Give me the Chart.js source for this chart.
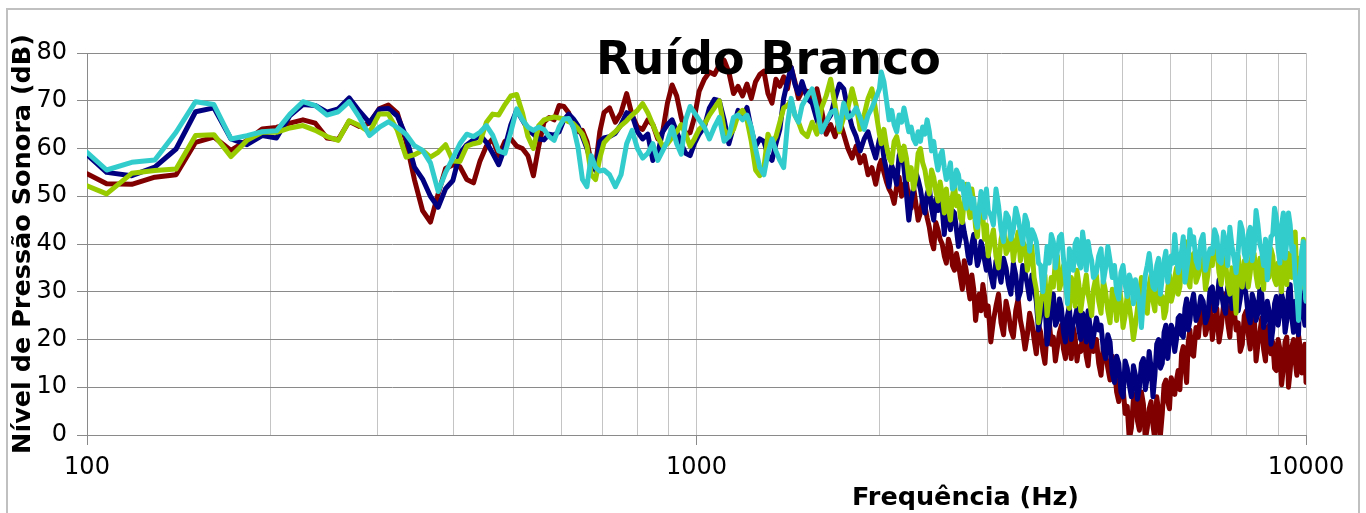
<!DOCTYPE html>
<html><head><meta charset="utf-8">
<script src="https://cdn.jsdelivr.net/npm/chart.js@4/dist/chart.umd.min.js"></script>
<style>
html,body{margin:0;padding:0;background:#fff;overflow:hidden;width:1366px;height:513px;}
#frame{position:absolute;left:6px;top:8px;width:1354px;height:560px;border:2px solid #c0c0c0;box-sizing:border-box;}
#wrap{position:absolute;left:0;top:0;width:1366px;height:513px;}
</style></head><body>
<div id="frame"></div>
<div id="wrap"><canvas id="c" width="1366" height="513"></canvas></div>
<script>
const TITLE = 'Ruído Branco';
const X_TITLE = 'Frequência (Hz)';
const Y_TITLE = 'Nível de Pressão Sonora (dB)';
const X_TICK_LABELS = [100, 1000, 10000];
const X_GRID = [100,200,300,400,500,600,700,800,900,1000,2000,3000,4000,5000,6000,7000,8000,9000,10000];
const Y_MIN = 0, Y_MAX = 80, Y_STEP = 10;

const FREQ = [
 100,107.7,118.4,129.2,140,150.7,161.5,172.3,183,193.8,204.6,215.3,226.1,236.9,247.6,258.4,269.2,279.9,290.7,301.5,312.2,323,333.8,344.5,355.3,366,376.8,387.6,398.4,409.1,419.9,430.7,441.4,452.2,463,473.7,
 485,496,507,518,529,540,551,562,573,584,595,606,617,628,639,650,661,672,683,694,705,
 720,736,752,768,784,800,816,832,848,864,880,896,912,928,944,960,976,992,
 1010,1030,1050,1070,1090,1110,1130,1150,1170,1190,1210,1230,1250,1270,1290,1310,1330,1350,1370,1390,1410,1430,1450,1470,1490,
 1520,1548,1576,1604,1632,1660,1688,1716,1744,1772,1800,1828,1856,1884,1912,1940,1968,1996,
 2010,2030,2050,2070,2090,2110,2130,2150,2170,2190,2210,2230,2250,2270,2290,2310,2330,2350,2370,2390,2410,2430,2450,2470,2490,2510,2530,2550,2570,2590,2610,2630,2650,2670,2690,2710,2730,2750,2770,2790,2810,2830,2850,2870,2890,2910,2930,2950,2970,2990,
 3010,3040,3070,3100,3130,3160,3190,3220,3250,3280,3310,3340,3370,3400,3430,3460,3490,3520,3550,3580,3610,3640,3670,3700,3730,3760,3790,3820,3850,3880,3910,3940,3970,4000,4030,4060,4090,4120,4150,4180,4210,4240,4270,4300,4330,4360,4390,4420,4450,4480,
 4530,4570,4610,4650,4690,4730,4770,4810,4850,4890,4930,4970,5010,5050,5090,5130,5170,5210,5250,5290,5330,5370,5410,5450,5490,5530,5570,5610,5650,5690,5730,5770,5810,5850,5890,5930,5970,6010,6050,6090,6130,6170,6210,6250,6290,6330,6370,6410,6450,6490,
 6540,6600,6660,6720,6780,6840,6900,6960,7020,7080,7140,7200,7260,7320,7380,7440,7500,7560,7620,7680,7740,7800,7860,7920,7980,8040,8100,8160,8220,8280,8340,8400,8460,8520,8580,8640,8700,8760,8820,8880,8940,9000,9060,9120,9180,9240,9300,9360,9420,9480,9540,9600,9660,9720,9780,9840,9900,9960,10000
];

const SERIES_RED = [
 54.7,52.6,52.5,54.0,54.5,61.3,62.4,59.6,61.7,64.1,64.4,65.3,66.0,65.3,62.2,61.9,65.7,64.6,65.3,68.3,69.1,67.4,61.5,53.5,47.0,44.6,50.5,55.8,56.6,56.2,53.5,52.8,57.4,60.5,62.0,58.5,
 61.5,62.0,60.5,60.0,58.5,54.3,60.5,65.5,66.5,66.0,69.0,68.8,67.5,64.5,63.5,63.8,61.5,57.0,56.5,63.5,67.5,
 68.5,65.5,67.5,71.5,67.0,64.5,64.0,66.0,65.0,62.0,63.5,69.5,73.3,71.0,66.5,63.0,63.3,66.5,
 72.0,74.5,76.0,75.5,77.5,78.5,76.0,71.5,73.0,71.0,73.5,70.5,74.0,75.5,76.2,71.5,69.5,74.5,73.0,75.0,72.5,77.0,74.0,70.5,72.0,
 72.0,70.5,72.5,68.0,63.0,65.0,62.5,66.0,63.0,60.0,58.0,60.5,57.0,58.5,54.5,56.0,52.5,56.5,
 57.5,55.0,53.0,51.5,50.5,48.5,52.0,54.0,50.0,52.5,53.0,49.5,47.5,52.0,48.5,45.0,46.5,49.5,48.0,45.5,43.5,40.5,39.0,44.5,43.0,41.0,40.0,37.5,36.0,41.0,39.5,35.5,34.5,38.0,36.0,33.0,30.5,36.5,34.5,31.0,28.5,33.5,30.5,24.0,27.5,29.5,26.0,31.5,29.0,25.0,
 27.0,19.5,24.0,27.0,29.5,23.5,21.0,28.0,25.5,22.0,20.5,26.0,28.5,24.0,21.5,18.0,21.0,25.5,23.5,20.0,17.0,23.0,21.5,17.5,15.0,22.0,24.0,19.0,20.5,15.5,18.5,21.5,23.0,18.0,16.0,21.0,19.5,16.0,22.5,20.5,15.5,18.5,17.5,21.0,19.5,16.5,14.5,19.5,21.0,17.5,
 20.0,15.0,12.5,18.5,17.0,14.0,11.5,16.5,14.0,9.0,7.0,12.0,10.0,4.5,6.0,-1.0,1.5,7.5,8.5,3.0,1.0,9.0,6.5,-1.0,1.5,5.5,7.0,2.0,-1.0,8.0,5.0,0.0,4.5,10.5,11.5,7.0,5.5,12.0,10.5,8.5,11.5,13.5,9.5,17.0,18.5,14.5,11.0,19.5,22.0,17.0,
 16.5,22.5,20.5,26.0,27.0,21.0,23.0,27.5,20.0,24.0,26.5,19.5,22.5,27.0,29.5,23.5,20.5,28.5,26.5,22.0,23.5,17.5,19.0,25.0,26.0,21.0,18.0,24.0,26.0,15.5,19.0,21.5,24.5,18.0,15.5,22.5,23.0,17.0,19.5,14.0,13.5,20.0,18.0,10.5,14.0,19.5,20.5,10.0,13.5,18.5,20.0,15.5,12.5,21.0,18.5,13.0,14.5,19.0,11.0
];

const SERIES_NAVY = [
 58.7,55.0,54.3,56.1,59.9,67.7,68.5,62.0,60.8,62.7,62.2,66.9,69.2,69.0,67.6,68.3,70.6,67.8,65.4,68.2,68.4,66.8,62.5,56.1,53.6,50.0,47.7,51.6,53.3,59.0,60.8,61.8,62.8,61.3,59.0,56.6,
 60.3,65.0,68.0,66.0,64.0,63.0,62.0,61.8,63.0,62.8,63.5,66.0,67.2,66.2,64.8,62.5,60.0,57.0,55.4,61.5,62.2,
 62.5,63.2,65.0,67.5,67.0,63.5,62.0,63.0,57.5,59.0,63.5,65.0,66.0,63.5,61.0,59.0,58.5,61.0,
 63.0,64.5,68.5,70.3,70.0,66.0,61.0,64.5,68.0,66.5,68.6,64.0,60.5,62.0,61.5,58.5,57.5,61.0,64.0,70.5,74.0,77.0,73.5,71.5,74.0,
 70.5,69.5,66.0,63.5,65.5,67.0,70.5,73.5,72.5,68.0,64.5,62.5,59.5,62.0,63.5,60.5,58.0,62.0,
 62.5,58.0,55.5,52.0,56.5,55.0,52.5,58.5,60.0,56.0,50.5,45.0,49.0,51.5,55.0,53.5,51.5,48.5,46.5,50.5,52.0,47.5,45.0,49.5,47.0,50.5,47.5,42.0,48.5,45.0,43.0,47.0,46.5,43.0,39.5,41.5,45.0,42.5,40.5,37.5,36.0,40.0,42.0,38.5,35.5,37.0,40.5,39.0,36.5,34.5,
 37.5,33.5,31.0,36.5,34.5,32.0,37.0,35.0,31.5,29.5,36.0,33.5,28.5,30.0,35.5,34.0,31.5,28.5,33.5,31.0,28.0,22.0,25.0,26.5,28.0,19.0,22.5,27.0,29.5,23.0,24.0,28.5,26.5,21.5,19.5,25.0,27.0,20.0,23.5,24.5,26.5,22.0,20.0,25.5,24.0,19.5,26.0,23.0,18.5,20.5,
 24.5,22.0,23.0,18.0,16.0,21.0,19.5,13.0,11.0,16.5,15.0,9.0,8.0,15.5,14.0,10.5,8.0,14.5,12.5,7.5,10.0,15.0,16.0,9.5,12.0,17.5,14.0,8.0,12.5,19.0,20.0,14.0,15.0,21.5,23.0,16.0,19.5,23.0,22.0,17.5,20.0,24.5,25.0,21.0,20.5,26.5,28.5,22.0,24.0,27.5,
 29.5,24.0,25.5,29.0,28.0,23.5,25.0,30.5,31.0,26.0,27.5,32.5,30.0,27.0,25.5,31.0,32.0,26.5,28.0,33.0,26.0,28.5,33.0,31.5,29.0,25.0,23.5,29.5,28.0,24.0,25.5,30.5,29.5,22.5,24.5,28.0,26.0,19.0,22.0,27.5,29.0,23.0,25.5,29.5,28.0,21.5,24.0,30.0,31.5,24.5,21.5,28.0,26.0,21.0,30.5,27.0,25.5,23.0,28.0
];

const SERIES_GREEN = [
 52.2,50.5,54.8,55.4,55.7,62.7,62.9,58.3,61.7,63.4,63.4,64.3,64.8,63.8,62.5,61.7,65.8,64.8,63.4,67.2,67.2,63.8,58.2,58.7,59.6,58.2,59.2,60.8,57.4,57.3,60.5,61.0,61.3,65.5,67.2,67.0,
 69.2,71.0,71.3,67.5,62.5,60.0,64.8,66.0,66.3,66.6,66.4,66.2,65.6,65.2,64.2,63.0,60.5,54.5,53.5,58.0,61.2,
 62.5,63.5,64.8,65.8,67.0,68.0,69.4,67.5,65.0,62.5,60.5,61.0,62.3,63.5,65.0,63.0,60.5,62.0,
 64.0,65.0,67.0,68.5,70.0,64.0,62.5,64.0,67.0,68.0,66.0,61.5,55.5,54.3,56.0,63.0,61.0,62.5,65.5,68.5,69.0,70.0,67.0,65.5,63.5,
 62.5,65.5,63.0,68.5,71.0,74.5,69.0,63.5,66.5,68.5,72.5,69.0,64.0,67.0,70.5,72.5,68.0,63.0,
 61.0,64.0,60.5,58.0,57.0,61.5,62.5,60.0,57.5,60.5,58.0,53.5,56.0,51.5,54.0,59.0,60.0,57.0,55.5,52.5,50.5,55.5,54.0,51.0,49.0,53.0,50.5,46.5,51.5,47.5,45.0,50.0,52.5,48.0,50.0,45.5,44.5,49.5,52.5,48.0,45.5,51.5,48.5,43.5,41.5,47.5,49.5,45.5,41.0,44.0,
 37.5,40.5,43.0,37.5,35.0,41.0,43.5,38.0,39.0,43.0,36.5,40.0,42.5,36.5,40.5,39.5,34.5,37.0,39.5,33.0,30.5,23.5,27.5,30.0,33.5,25.0,29.0,33.0,31.0,36.5,37.5,30.5,32.0,35.5,32.5,28.5,26.5,33.0,31.5,27.0,34.5,31.5,26.0,29.0,31.0,33.5,29.5,27.5,25.0,30.5,
 33.5,28.0,25.5,32.5,30.0,26.0,23.5,30.5,29.0,24.0,31.5,28.5,22.5,25.0,29.5,27.0,24.0,20.0,23.0,26.5,29.0,33.0,31.0,27.5,25.5,31.5,33.5,28.0,26.0,32.5,31.5,27.5,29.0,24.5,26.0,30.5,33.5,28.0,29.5,33.0,35.0,29.5,31.0,35.0,34.5,40.5,37.5,32.0,31.0,36.5,
 38.0,32.0,33.5,36.5,37.0,30.5,33.5,38.0,35.5,41.5,38.5,34.0,31.5,37.5,36.0,31.5,29.5,35.0,31.5,25.5,37.5,33.0,31.0,36.5,36.5,31.0,34.0,38.5,38.0,33.5,31.0,37.0,36.0,30.5,39.0,35.5,33.0,39.0,37.5,32.5,31.5,36.0,35.5,30.0,39.5,34.5,31.5,38.0,37.5,33.0,36.0,42.5,32.5,37.0,35.5,31.0,41.0,36.0,33.0
];

const SERIES_CYAN = [
 59.2,55.5,57.1,57.6,63.4,69.8,69.2,62.0,62.7,63.5,63.7,67.2,69.8,69.0,67.0,67.7,69.8,66.5,62.7,64.4,65.6,64.4,63.0,60.6,59.6,57.0,51.0,55.0,58.0,61.0,63.0,62.5,63.4,64.8,62.8,59.5,
 59.0,63.5,68.3,66.0,64.5,63.8,64.5,64.0,62.5,61.7,64.5,66.2,66.3,64.5,60.3,53.5,52.0,58.5,56.0,55.3,55.5,
 54.5,52.0,54.5,61.0,63.8,60.0,58.0,59.0,61.0,57.5,59.5,61.5,64.5,61.0,58.8,66.0,68.8,67.5,
 66.0,64.5,62.0,64.5,66.5,61.5,62.5,66.5,67.0,66.0,67.0,64.5,60.0,56.0,54.5,59.0,62.0,59.5,57.5,56.0,65.0,70.5,67.0,65.5,69.0,
 71.0,72.5,68.5,63.5,65.5,67.5,68.0,64.0,69.5,66.5,67.0,68.5,66.5,64.0,67.0,68.5,70.5,72.5,
 76.0,74.0,70.0,66.0,68.0,65.0,63.5,67.0,65.5,68.5,66.0,63.5,64.5,62.0,61.0,63.5,61.5,64.5,63.0,66.0,63.5,59.5,61.5,58.0,55.5,58.5,59.5,56.0,53.5,55.0,57.0,51.5,52.0,55.5,54.5,51.5,53.0,49.5,47.5,52.5,50.5,47.5,49.5,45.0,43.5,47.5,51.0,48.5,45.5,51.5,
 47.0,46.0,44.0,51.5,48.0,43.0,40.5,46.5,45.5,41.0,43.0,47.5,45.5,42.5,40.0,46.0,44.5,38.5,43.0,42.0,40.5,36.0,35.5,30.0,34.5,39.5,36.0,42.0,40.5,35.0,38.5,41.5,42.0,37.0,33.0,27.5,39.0,36.5,34.5,40.0,41.0,36.0,35.0,42.5,39.5,34.5,40.5,38.0,36.5,33.0,
 34.0,37.5,39.0,32.0,35.0,39.5,36.5,33.0,35.5,30.0,28.5,34.0,35.5,31.5,29.0,33.5,32.0,27.5,32.5,30.5,27.5,22.5,28.5,33.5,35.5,38.0,34.5,31.0,30.5,35.5,37.0,29.5,33.0,36.5,38.5,32.0,34.5,37.5,36.0,42.0,38.0,34.0,35.5,38.5,41.5,32.0,34.5,37.0,43.0,40.0,
 41.5,36.5,35.0,40.5,42.0,34.5,37.0,39.0,38.0,43.0,41.5,36.5,36.0,42.5,40.5,35.5,43.5,39.5,37.0,34.0,38.5,44.5,43.0,38.0,36.5,42.0,43.5,36.5,39.0,47.0,44.0,40.0,38.5,35.5,41.0,32.5,37.5,41.5,42.0,47.5,45.5,39.0,36.0,44.0,46.5,37.0,40.5,46.5,44.0,38.5,39.5,33.0,30.0,24.0,33.0,38.5,40.5,31.0,28.0
];

const FONT = 'DejaVu Sans';

const textPlugin = {
  id: 'freeTexts',
  afterDraw(chart) {
    const c = chart.ctx;
    c.save();
    c.fillStyle = '#000';
    c.textAlign = 'center';
    c.textBaseline = 'alphabetic';
    c.font = 'bold 46px "' + FONT + '"';
    c.fillText(TITLE, 768.5, 73.5);
    c.font = 'bold 25.5px "' + FONT + '"';
    c.fillText(X_TITLE, 965.5, 505);
    c.restore();
  }
};

function ds(label, data, color, order) {
  return { label, data, borderColor: color, backgroundColor: color, order, clip: 0,
           borderWidth: 5, pointRadius: 0, tension: 0, fill: false,
           borderJoinStyle: 'round', borderCapStyle: 'round' };
}

new Chart(document.getElementById('c').getContext('2d'), {
  type: 'line',
  data: {
    labels: FREQ,
    datasets: [
      ds('Série 1', SERIES_RED, '#800000', 3),
      ds('Série 2', SERIES_NAVY, '#000080', 2),
      ds('Série 3', SERIES_GREEN, '#99cc00', 1),
      ds('Série 4', SERIES_CYAN, '#33cccc', 0)
    ]
  },
  options: {
    responsive: false,
    animation: false,
    devicePixelRatio: 1,
    layout: { padding: { left: 0, top: 53, right: 60, bottom: 0 } },
    plugins: { legend: { display: false }, tooltip: { enabled: false }, title: { display: false } },
    scales: {
      x: {
        type: 'logarithmic', min: 100, max: 10000,
        afterBuildTicks: s => { s.ticks = X_GRID.map(v => ({ value: v })); },
        afterFit: s => { s.height = 78; },
        ticks: {
          autoSkip: false, maxRotation: 0, minRotation: 0, padding: 8, color: '#000',
          font: { family: FONT, size: 24 },
          callback: v => X_TICK_LABELS.includes(v) ? String(v) : ''
        },
        grid: {
          color: '#c4c4c4', lineWidth: 1, tickLength: 10,
          tickColor: c => (c.tick && X_TICK_LABELS.includes(c.tick.value)) ? '#8a8a8a' : 'rgba(0,0,0,0)'
        },
        border: { display: true, color: '#8a8a8a', width: 1 },
        title: { display: false, text: X_TITLE }
      },
      y: {
        min: Y_MIN, max: Y_MAX,
        afterFit: s => { s.width = 87; },
        ticks: { stepSize: Y_STEP, padding: 10, color: '#000', font: { family: FONT, size: 24 } },
        grid: { color: '#8a8a8a', lineWidth: 1, tickLength: 10 },
        border: { display: true, color: '#8a8a8a', width: 1 },
        title: { display: true, text: Y_TITLE, color: '#000',
                 font: { family: FONT, size: 25.5, weight: 'bold' }, padding: { top: 8, bottom: 0 } }
      }
    }
  },
  plugins: [textPlugin]
});
</script>
</body></html>
